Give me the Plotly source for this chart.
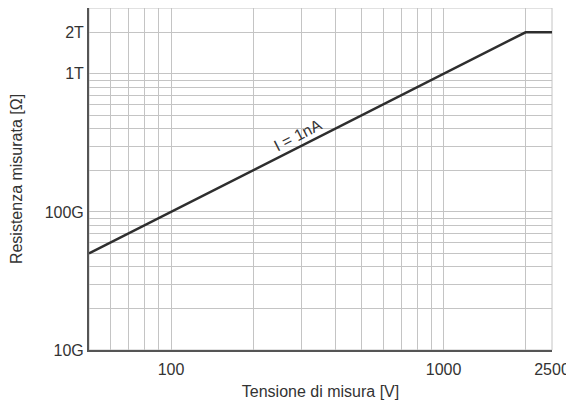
import math
import plotly.graph_objects as go

# Data
voltage_v = [50, 2000, 2500]
resistance_ohm = [50e9, 2e12, 2e12]

x_grid_vals = [50, 60, 70, 80, 90, 100, 200, 300, 400, 500, 600, 700, 800, 900, 1000, 2000, 2500]
x_tick_labels = {100: "100", 1000: "1000", 2500: "2500"}
y_grid_vals = [1e10, 2e10, 3e10, 4e10, 5e10, 6e10, 7e10, 8e10, 9e10,
               1e11, 2e11, 3e11, 4e11, 5e11, 6e11, 7e11, 8e11, 9e11,
               1e12, 2e12]
y_tick_labels = {1e10: "10G", 1e11: "100G", 1e12: "1T", 2e12: "2T"}

label_text = "I = 1nA"
label_x = 300
label_y = 3e11

FONT = "Liberation Sans, Arial"

fig = go.Figure()
fig.add_trace(go.Scatter(
    x=voltage_v, y=resistance_ohm, mode="lines",
    line=dict(color="#2e2e2e", width=2.5), showlegend=False, hoverinfo="skip"))

fig.add_annotation(x=math.log10(label_x), y=math.log10(label_y), xref="x", yref="y",
                   text=label_text, showarrow=False, textangle=-27,
                   yshift=11, xshift=-4,
                   font=dict(family=FONT, size=16, color="#333"))

fig.add_shape(type="rect", xref="paper", yref="paper", x0=0, y0=0, x1=1, y1=1,
              line=dict(color="#c4c4c4", width=1), layer="below")

fig.update_layout(
    width=566, height=392,
    margin=dict(l=81, r=22, t=0, b=50, autoexpand=False),
    paper_bgcolor="white", plot_bgcolor="white",
    font=dict(family=FONT, size=16, color="#333"),
    xaxis=dict(
        type="log", range=[math.log10(50), math.log10(2500)],
        tickmode="array", tickvals=x_grid_vals,
        ticktext=[x_tick_labels.get(v, "") for v in x_grid_vals],
        showgrid=True, gridcolor="#c4c4c4", gridwidth=1,
        showline=True, linecolor="#555", linewidth=2,
        ticks="", zeroline=False, automargin=False,
        ticklabelstandoff=4,
        title=dict(text="Tensione di misura [V]", standoff=10, font=dict(size=16)),
        tickfont=dict(size=16),
    ),
    yaxis=dict(
        type="log", range=[10, 12.477],
        tickmode="array", tickvals=y_grid_vals,
        ticktext=[y_tick_labels.get(v, "") for v in y_grid_vals],
        showgrid=True, gridcolor="#c4c4c4", gridwidth=1,
        showline=True, linecolor="#555", linewidth=2,
        ticks="", zeroline=False, automargin=False,
        title=dict(text="Resistenza misurata [Ω]", standoff=22, font=dict(size=16)),
        tickfont=dict(size=16),
    ),
)

fig.write_html("out.html")
